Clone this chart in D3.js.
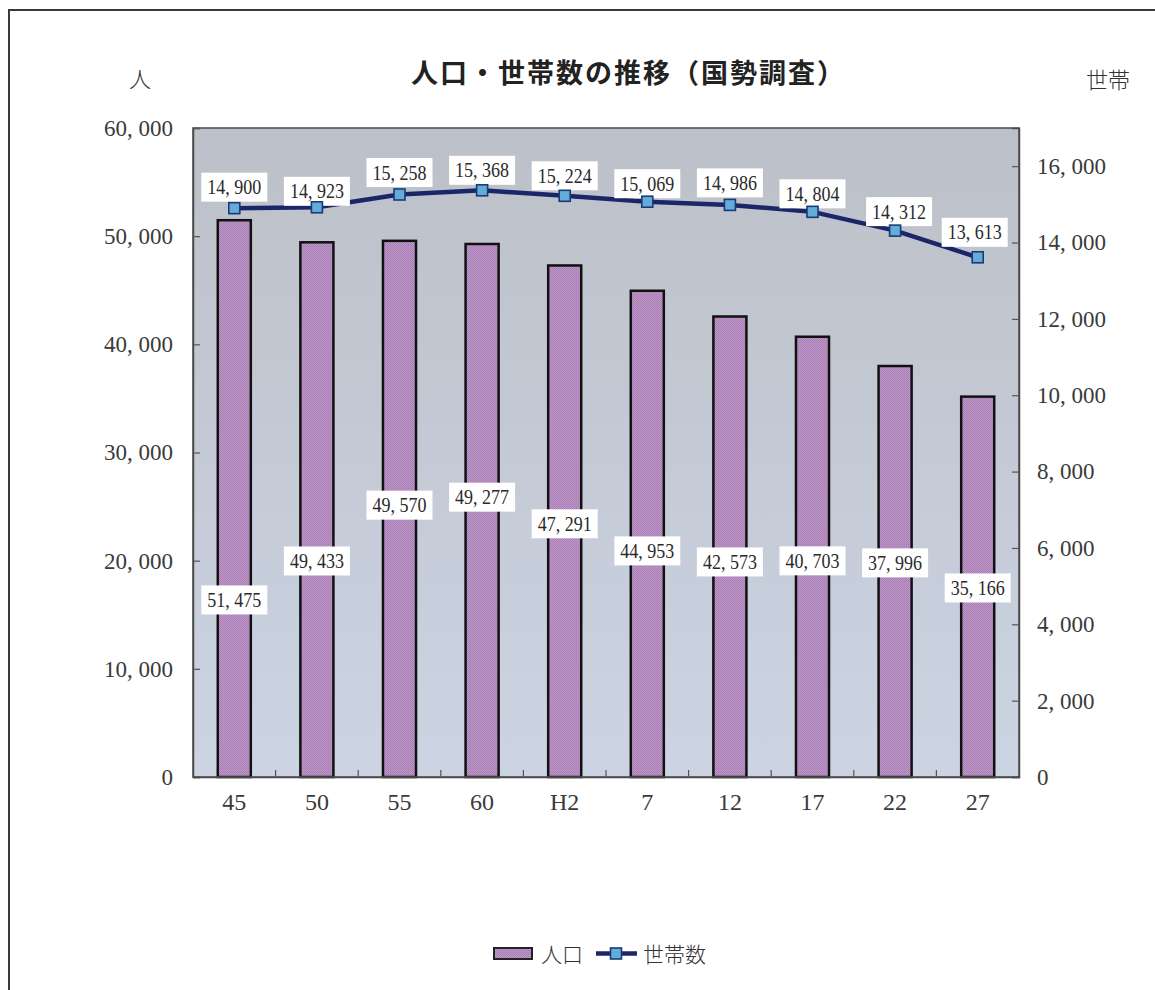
<!DOCTYPE html>
<html><head><meta charset="utf-8">
<script src="https://cdn.jsdelivr.net/npm/d3@7"></script>
<style>
html,body{margin:0;padding:0;background:#fff;}
svg{display:block;}
</style></head>
<body>
<svg id="chart" width="1155" height="990"></svg>
<script>
// ---- data ----
const categories = ["45","50","55","60","H2","7","12","17","22","27"];
const population = [51475,49433,49570,49277,47291,44953,42573,40703,37996,35166];
const households = [14900,14923,15258,15368,15224,15069,14986,14804,14312,13613];
const leftTicks = [0,10000,20000,30000,40000,50000,60000];
const rightTicks = [0,2000,4000,6000,8000,10000,12000,14000,16000];
const seriesNames = ["人口","世帯数"];
const titleText = "人口・世帯数の推移（国勢調査）";
const leftUnit = "人";
const rightUnit = "世帯";

// ---- layout (label placement, not data) ----
const popLabelFrac = [0.318,0.404,0.507,0.525,0.495,0.465,0.467,0.491,0.521,0.497];
const hhLabelDy = [21,16,22,20,20,18,22,18,19,25];
const hhLabelDx = [0,0,0,0,0,0,0,0,4,-3];

const svg = d3.select("#chart");
const plot = {left:193, right:1019, top:128, bottom:777};

const defs = svg.append("defs");
const grad = defs.append("linearGradient").attr("id","bg").attr("x1",0).attr("y1",0).attr("x2",0).attr("y2",1);
grad.append("stop").attr("offset","0%").attr("stop-color","#bcc0c8");
grad.append("stop").attr("offset","100%").attr("stop-color","#ccd4e3");
const pat = defs.append("pattern").attr("id","mesh").attr("width",2).attr("height",2).attr("patternUnits","userSpaceOnUse");
pat.append("rect").attr("width",2).attr("height",2).attr("fill","#bc96c6");
pat.append("rect").attr("width",1).attr("height",1).attr("fill","#a57bb1");
pat.append("rect").attr("x",1).attr("y",1).attr("width",1).attr("height",1).attr("fill","#ad84b9");

// outer frame
svg.append("rect").attr("x",9).attr("y",10).attr("width",1170).attr("height",1000)
  .attr("fill","none").attr("stroke","#3a3a3a").attr("stroke-width",2);

// scales
const x = d3.scaleBand().domain(categories).range([plot.left, plot.right]).paddingInner(0.6).paddingOuter(0.3);
const yL = d3.scaleLinear().domain([0,60000]).range([plot.bottom, plot.top]);
const yR = d3.scaleLinear().domain([0,17000]).range([plot.bottom, plot.top]);
const fmt = v => d3.format(",")(v).replace(/,/g, ", ");
const serif = "'Liberation Serif','DejaVu Serif',serif";
const cjk = "'Noto Sans CJK JP','Noto Sans CJK SC',sans-serif";

// plot background
svg.append("rect").attr("x",plot.left).attr("y",plot.top)
  .attr("width",plot.right-plot.left).attr("height",plot.bottom-plot.top)
  .attr("fill","url(#bg)");

// bars
svg.append("g").selectAll("rect").data(population).join("rect")
  .attr("x",(d,i)=>x(categories[i]))
  .attr("y",d=>yL(d))
  .attr("width",x.bandwidth())
  .attr("height",d=>yL(0)-yL(d))
  .attr("fill","url(#mesh)")
  .attr("stroke","#111").attr("stroke-width",2.5);

// plot border
svg.append("rect").attr("x",plot.left).attr("y",plot.top)
  .attr("width",plot.right-plot.left).attr("height",plot.bottom-plot.top)
  .attr("fill","none").attr("stroke","#4a4a4a").attr("stroke-width",1.5);

// axes
const axL = svg.append("g").attr("transform",`translate(${plot.left},0)`)
  .call(d3.axisLeft(yL).tickValues(leftTicks).tickFormat(fmt).tickSize(-7).tickPadding(20));
const axR = svg.append("g").attr("transform",`translate(${plot.right},0)`)
  .call(d3.axisRight(yR).tickValues(rightTicks).tickFormat(fmt).tickSize(-7).tickPadding(18));
const axB = svg.append("g").attr("transform",`translate(0,${plot.bottom})`)
  .call(d3.axisBottom(x).tickSize(0).tickPadding(22));
[axL,axR,axB].forEach(a=>{
  a.select(".domain").attr("stroke","#4a4a4a").attr("stroke-width",1.5);
  a.selectAll(".tick line").attr("stroke","#555").attr("stroke-width",1.2);
  a.selectAll("text").attr("font-family",serif).attr("fill","#3a3a3a");
});
axL.selectAll("text").attr("font-size",23);
axR.selectAll("text").attr("font-size",23);
axB.selectAll("text").attr("font-size",24).attr("dy","0.71em").attr("y",16);
// category separator ticks on x axis
const step = x.step();
svg.append("g").selectAll("line").data(categories.slice(1)).join("line")
  .attr("x1",d=>x(d)-x.paddingInner()*step/2).attr("x2",d=>x(d)-x.paddingInner()*step/2)
  .attr("y1",plot.bottom).attr("y2",plot.bottom-7)
  .attr("stroke","#555").attr("stroke-width",1.2);

// line
const cx = c => x(c)+x.bandwidth()/2;
const line = d3.line().x((d,i)=>cx(categories[i])).y(d=>yR(d));
svg.append("path").datum(households).attr("d",line)
  .attr("fill","none").attr("stroke","#1b2668").attr("stroke-width",4.5).attr("stroke-linejoin","round");

// label helper
function label(g, cxp, cyp, text){
  const lg = g.append("g").attr("transform",`translate(${cxp},${cyp})`);
  lg.append("rect").attr("x",-33).attr("y",-14.5).attr("width",66).attr("height",29).attr("fill","#fff");
  lg.append("text").attr("transform","scale(0.9,1)").attr("text-anchor","middle").attr("dy","0.35em")
    .attr("font-family",serif).attr("font-size",20).attr("fill","#2a2a2a").text(text);
}
const labels = svg.append("g");
population.forEach((v,i)=>{
  const h = yL(0)-yL(v);
  label(labels, cx(categories[i]), yL(0)-h*popLabelFrac[i], fmt(v));
});
households.forEach((v,i)=>{
  label(labels, cx(categories[i])+hhLabelDx[i], yR(v)-hhLabelDy[i], fmt(v));
});

// markers
svg.append("g").selectAll("rect").data(households).join("rect")
  .attr("x",(d,i)=>cx(categories[i])-5.5).attr("y",d=>yR(d)-5.5)
  .attr("width",11).attr("height",11)
  .attr("fill","#62acd7").attr("stroke","#1b3a78").attr("stroke-width",1.6);

// title & units
svg.append("text").attr("x",411).attr("y",83).attr("font-family",cjk).attr("font-weight",700)
  .attr("font-size",27).attr("letter-spacing",2).attr("fill","#222").text(titleText);
svg.append("text").attr("x",140).attr("y",87).attr("text-anchor","middle").attr("font-family",cjk)
  .attr("font-weight",300).attr("font-size",22).attr("fill","#333").text(leftUnit);
svg.append("text").attr("x",1108).attr("y",88).attr("text-anchor","middle").attr("font-family",cjk)
  .attr("font-weight",300).attr("font-size",22).attr("fill","#333").text(rightUnit);

// legend
const lg = svg.append("g");
lg.append("rect").attr("x",494).attr("y",948).attr("width",38).attr("height",11)
  .attr("fill","url(#mesh)").attr("stroke","#222").attr("stroke-width",2);
lg.append("text").attr("x",541).attr("y",962).attr("font-family",cjk).attr("font-weight",300)
  .attr("font-size",21).attr("fill","#333").text(seriesNames[0]);
lg.append("line").attr("x1",596).attr("x2",637).attr("y1",953.5).attr("y2",953.5)
  .attr("stroke","#1b2668").attr("stroke-width",4.5);
lg.append("rect").attr("x",610.5).attr("y",948).attr("width",11).attr("height",11)
  .attr("fill","#62acd7").attr("stroke","#1b3a78").attr("stroke-width",1.6);
lg.append("text").attr("x",643).attr("y",962).attr("font-family",cjk).attr("font-weight",300)
  .attr("font-size",21).attr("fill","#333").text(seriesNames[1]);
</script>
</body></html>
